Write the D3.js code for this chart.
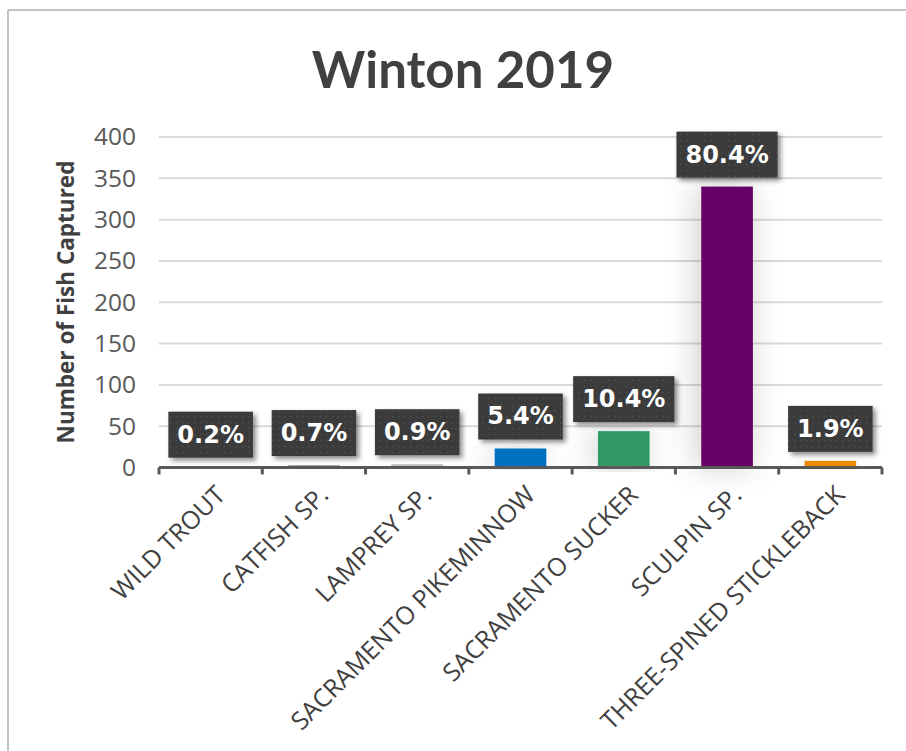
<!DOCTYPE html>
<html>
<head>
<meta charset="utf-8">
<script src="https://cdn.jsdelivr.net/npm/d3@7"></script>
<style>
  html, body { margin: 0; padding: 0; background: #ffffff; }
  svg { display: block; }
</style>
</head>
<body>
<svg id="chart" width="906" height="751"></svg>
<script>
// Fish captured at Winton, 2019
const species = [
  "WILD TROUT",
  "CATFISH SP.",
  "LAMPREY SP.",
  "SACRAMENTO PIKEMINNOW",
  "SACRAMENTO SUCKER",
  "SCULPIN SP.",
  "THREE-SPINED STICKLEBACK"
];
const counts = [1, 3, 4, 23, 44, 340, 8];
const barColors = ["#a6a6a6", "#a6a6a6", "#bfbfbf", "#0070c0", "#339966", "#660066", "#ed8b00"];
const yTicks = [0, 50, 100, 150, 200, 250, 300, 350, 400];
const chartTitle = "Winton 2019";
const yTitle = "Number of Fish Captured";

const total = d3.sum(counts);
const rows = species.map((name, i) => ({ name, count: counts[i], color: barColors[i], share: counts[i] / total }));

const svg = d3.select("#chart");
const defs = svg.append("defs");

// Dotted dark fill for the label callouts
const pat = defs.append("pattern")
  .attr("id", "dots").attr("width", 6).attr("height", 6)
  .attr("patternUnits", "userSpaceOnUse");
pat.append("rect").attr("width", 6).attr("height", 6).attr("fill", "#3b3b3b");
pat.append("rect").attr("x", 2).attr("y", 2).attr("width", 1.2).attr("height", 1.2).attr("fill", "#555555");

const sh = defs.append("filter").attr("id", "boxShadow")
  .attr("x", "-20%").attr("y", "-20%").attr("width", "150%").attr("height", "160%");
sh.append("feDropShadow").attr("dx", 3).attr("dy", 3).attr("stdDeviation", 2.5)
  .attr("flood-color", "#000").attr("flood-opacity", 0.45);

const glow = defs.append("filter").attr("id", "barShadow")
  .attr("x", "-150%").attr("y", "-10%").attr("width", "400%").attr("height", "120%");
glow.append("feDropShadow").attr("dx", -4).attr("dy", 0).attr("stdDeviation", 16)
  .attr("flood-color", "#000").attr("flood-opacity", 0.2);

// Frame
svg.append("line").attr("x1", 8).attr("x2", 906).attr("y1", 10).attr("y2", 10)
  .attr("stroke", "#c4c4c4").attr("stroke-width", 2);
svg.append("line").attr("x1", 8).attr("x2", 8).attr("y1", 10).attr("y2", 751)
  .attr("stroke", "#c4c4c4").attr("stroke-width", 2);

// Scales
const x = d3.scaleBand().domain(species).range([159, 882]).paddingInner(0.5).paddingOuter(0.25);
const y = d3.scaleLinear().domain([0, 400]).range([467.5, 137]);

// Title
svg.append("text")
  .attr("x", 463).attr("y", 88)
  .attr("text-anchor", "middle")
  .attr("font-family", "Lato, 'Open Sans', sans-serif")
  .attr("font-weight", "bold")
  .attr("font-size", 51)
  .attr("fill", "#404040")
  .text(chartTitle);

// Gridlines
svg.append("g").selectAll("line")
  .data(yTicks.filter(t => t > 0))
  .join("line")
  .attr("x1", 159).attr("x2", 882)
  .attr("y1", d => y(d)).attr("y2", d => y(d))
  .attr("stroke", "#d9d9d9").attr("stroke-width", 2);

// Y axis labels
const yAxis = svg.append("g")
  .attr("transform", "translate(140,0)")
  .call(d3.axisLeft(y).tickValues(yTicks).tickSize(0).tickPadding(4));
yAxis.select(".domain").remove();
yAxis.selectAll("text")
  .attr("font-family", "'Open Sans', sans-serif")
  .attr("font-size", 24.5)
  .attr("fill", "#595959");

// Y axis title
svg.append("text")
  .attr("transform", "translate(74,302) rotate(-90)")
  .attr("text-anchor", "middle")
  .attr("font-family", "'Open Sans', sans-serif")
  .attr("font-weight", "bold")
  .attr("font-size", 22.5)
  .attr("fill", "#404040")
  .text(yTitle);

// Bars
svg.append("g").selectAll("rect")
  .data(rows)
  .join("rect")
  .attr("x", d => x(d.name))
  .attr("width", x.bandwidth())
  .attr("y", d => y(d.count))
  .attr("height", d => y(0) - y(d.count))
  .attr("fill", d => d.color)
  .attr("filter", "url(#barShadow)");

// X axis line with ticks between categories
const axisY = y(0);
const xAxisG = svg.append("g");
xAxisG.append("line").attr("x1", 159).attr("x2", 882)
  .attr("y1", axisY).attr("y2", axisY)
  .attr("stroke", "#595959").attr("stroke-width", 3);
const boundaries = d3.range(species.length + 1).map(i => 159 + i * x.step());
xAxisG.selectAll(".tk").data(boundaries).join("line").attr("class", "tk")
  .attr("x1", d => d).attr("x2", d => d)
  .attr("y1", axisY).attr("y2", axisY + 7)
  .attr("stroke", "#595959").attr("stroke-width", 3);

// Category labels
svg.append("g").selectAll("text")
  .data(rows)
  .join("text")
  .attr("transform", d => `translate(${x(d.name) + x.bandwidth() / 2 + 16},${axisY + 29}) rotate(-45)`)
  .attr("text-anchor", "end")
  .attr("font-family", "'Open Sans', sans-serif")
  .attr("font-size", 25)
  .attr("fill", "#404040")
  .text(d => d.name);

// Percentage callouts
const fmt = d3.format(".1%");
const labels = svg.append("g").selectAll("g")
  .data(rows)
  .join("g");
labels.each(function(d) {
  const g = d3.select(this);
  const cx = x(d.name) + x.bandwidth() / 2;
  const bottom = y(d.count) - 9;
  const t = g.append("text")
    .attr("x", cx).attr("y", bottom - 23)
    .attr("text-anchor", "middle")
    .attr("dominant-baseline", "central")
    .attr("font-family", "'DejaVu Sans', sans-serif")
    .attr("font-weight", "bold")
    .attr("font-size", 24)
    .attr("fill", "#ffffff")
    .text(fmt(d.share));
  const w = t.node().getComputedTextLength() + 18;
  g.insert("rect", "text")
    .attr("x", cx - w / 2).attr("y", bottom - 46)
    .attr("width", w).attr("height", 46)
    .attr("fill", "url(#dots)")
    .attr("filter", "url(#boxShadow)");
});
</script>
</body>
</html>
